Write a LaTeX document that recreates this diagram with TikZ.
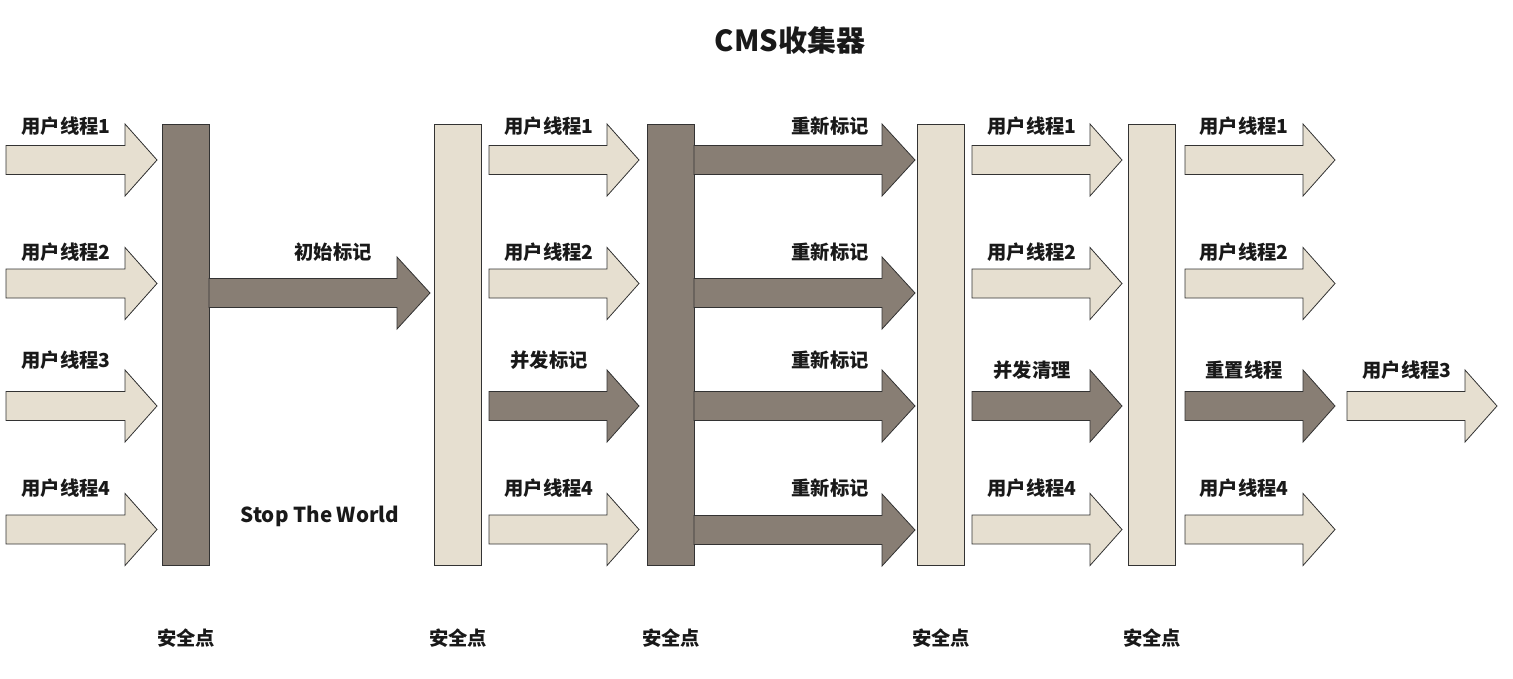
\documentclass[tikz,border=0pt]{standalone}
\usepackage{fontspec}
\setmainfont{Noto Sans CJK SC}
\definecolor{darkfill}{HTML}{887E74}
\definecolor{lightfill}{HTML}{E6DFD0}
\definecolor{edge}{HTML}{333333}
\newcommand\fatarrow[5]{% x0, x1, yc, fill colour, head base x
  \draw[arrowshape, fill=#4] (#1,#3-14.5) -- (#5,#3-14.5) -- (#5,#3-36) -- (#2,#3) -- (#5,#3+36) -- (#5,#3+14.5) -- (#1,#3+14.5) -- cycle;}
\begin{document}
\begin{tikzpicture}[x=1pt,y=-1pt,
  arrowshape/.style={draw=edge, line width=0.8pt, line join=miter},
  barbox/.style={draw=edge, line width=1pt, minimum width=47pt, minimum height=441pt, inner sep=0pt, anchor=north west},
  lbl/.style={font=\fontsize{19.3}{22}\selectfont\bfseries, text=black!90, inner sep=0pt},
  stwlbl/.style={font=\fontsize{20.6}{24}\selectfont\bfseries, text=black!90, inner sep=0pt},
  ttl/.style={font=\fontsize{29}{33}\selectfont\bfseries, text=black!90, inner sep=0pt}]
\useasboundingbox (0,0) rectangle (1513,678);
% title
\node[ttl] (title) at (790,40) {CMS收集器};
% column 1 user arrows
\fatarrow{6}{157}{160}{lightfill}{125}
\fatarrow{6}{157}{283.5}{lightfill}{125}
\fatarrow{6}{157}{406}{lightfill}{125}
\fatarrow{6}{157}{529.5}{lightfill}{125}
\node[lbl] (u11) at (66,126) {用户线程1};
\node[lbl] (u12) at (66,252) {用户线程2};
\node[lbl] (u13) at (66,360) {用户线程3};
\node[lbl] (u14) at (66,488) {用户线程4};
% bars
\node[barbox, fill=darkfill] (b1) at (162,124) {};
\node[barbox, fill=lightfill] (b2) at (434,124) {};
\node[barbox, fill=darkfill] (b3) at (647,124) {};
\node[barbox, fill=lightfill] (b4) at (917,124) {};
\node[barbox, fill=lightfill] (b5) at (1128,124) {};
% initial mark
\fatarrow{209}{430}{293}{darkfill}{397}
\node[lbl] (init) at (333,252) {初始标记};
\node[stwlbl] (stw) at (320,516) {Stop The World};
% column 2
\fatarrow{489}{639}{160}{lightfill}{607}
\fatarrow{489}{639}{283.5}{lightfill}{607}
\fatarrow{489}{639}{406}{darkfill}{607}
\fatarrow{489}{639}{529.5}{lightfill}{607}
\node[lbl] (u21) at (549,126) {用户线程1};
\node[lbl] (u22) at (549,252) {用户线程2};
\node[lbl] (cm) at (549,360) {并发标记};
\node[lbl] (u24) at (549,488) {用户线程4};
% column 3 (remark)
\fatarrow{694}{915}{160}{darkfill}{882}
\fatarrow{694}{915}{293}{darkfill}{882}
\fatarrow{694}{915}{406}{darkfill}{882}
\fatarrow{694}{915}{530}{darkfill}{882}
\node[lbl] (r1) at (830,126) {重新标记};
\node[lbl] (r2) at (830,252) {重新标记};
\node[lbl] (r3) at (830,360) {重新标记};
\node[lbl] (r4) at (830,488) {重新标记};
% column 4
\fatarrow{972}{1122}{160}{lightfill}{1090}
\fatarrow{972}{1122}{283.5}{lightfill}{1090}
\fatarrow{972}{1122}{406}{darkfill}{1090}
\fatarrow{972}{1122}{529.5}{lightfill}{1090}
\node[lbl] (u41) at (1032,126) {用户线程1};
\node[lbl] (u42) at (1032,252) {用户线程2};
\node[lbl] (cc) at (1032,370) {并发清理};
\node[lbl] (u44) at (1032,488) {用户线程4};
% column 5
\fatarrow{1185}{1335}{160}{lightfill}{1303}
\fatarrow{1185}{1335}{283.5}{lightfill}{1303}
\fatarrow{1185}{1335}{406}{darkfill}{1303}
\fatarrow{1185}{1335}{529.5}{lightfill}{1303}
\node[lbl] (u51) at (1244,126) {用户线程1};
\node[lbl] (u52) at (1244,252) {用户线程2};
\node[lbl] (rt) at (1244,370) {重置线程};
\node[lbl] (u54) at (1244,488) {用户线程4};
% final
\fatarrow{1347}{1497}{406}{lightfill}{1465}
\node[lbl] (u63) at (1407,370) {用户线程3};
% safe points
\node[lbl] (s1) at (186,638) {安全点};
\node[lbl] (s2) at (458,638) {安全点};
\node[lbl] (s3) at (671,638) {安全点};
\node[lbl] (s4) at (941,638) {安全点};
\node[lbl] (s5) at (1152,638) {安全点};
\end{tikzpicture}
\end{document}
